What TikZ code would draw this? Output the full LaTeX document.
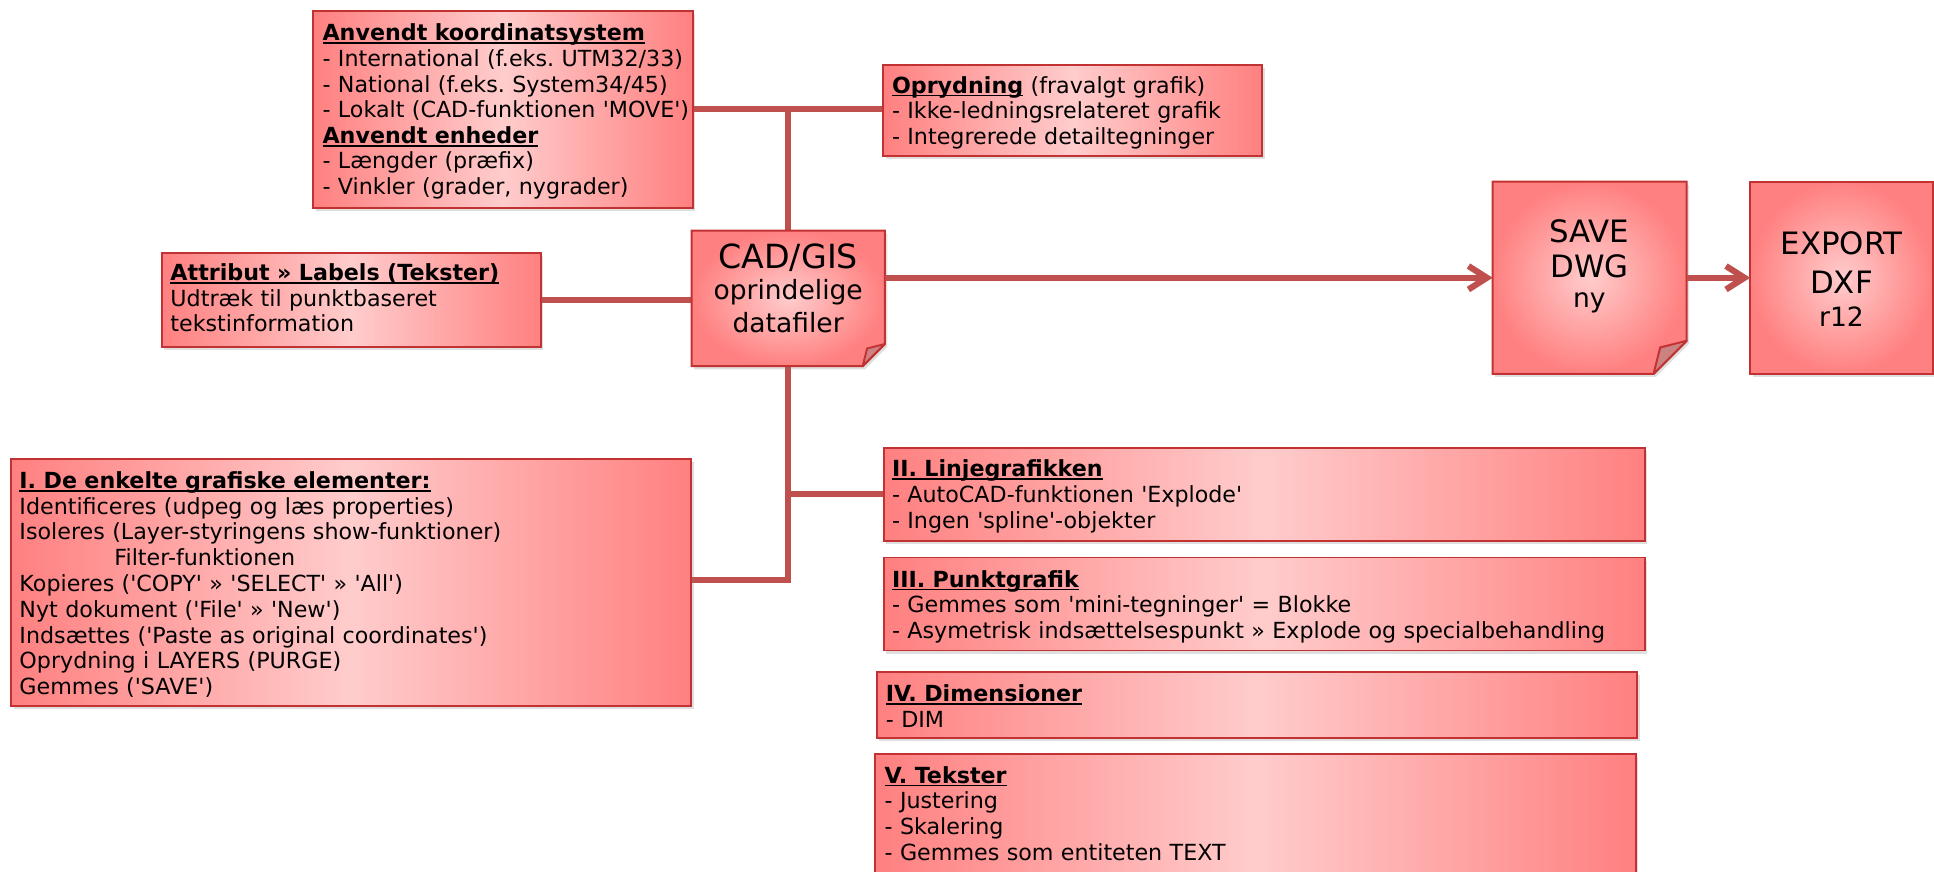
\documentclass[tikz,border=0pt]{standalone}
\usepackage{fontspec}
\newfontfamily\dv{DejaVu Sans}
\usetikzlibrary{shadows,arrows.meta,calc}
\definecolor{bord}{RGB}{195,50,50}
\definecolor{conn}{RGB}{192,80,77}
\definecolor{edgec}{RGB}{255,128,128}
\definecolor{midc}{RGB}{255,204,204}
\definecolor{foldc}{RGB}{205,130,130}
\newcommand\myul[1]{\leavevmode\setbox0\hbox{#1}\rlap{\rule[-2.6pt]{\wd0}{1.3pt}}\box0\relax}
\frenchspacing
\begin{document}
\begin{tikzpicture}[x=1pt,y=-1pt,
  shadowed/.style={drop shadow={opacity=0.25,shadow xshift=2pt,shadow yshift=-2.5pt}},
  box/.style={draw=bord, line width=1.6pt, left color=edgec, right color=edgec, middle color=midc,
    shadowed, anchor=north west, inner sep=0pt},
  ghost/.style={draw=none, anchor=north west, inner sep=0pt},
  foldbox/.style={draw=bord, line width=1.6pt, inner color=midc, outer color=edgec, shadowed},
  foldtri/.style={draw=bord, line width=1.6pt, fill=foldc, line join=round},
  txt/.style={font=\dv\frenchspacing\fontsize{18}{20.8}\selectfont, align=left, text width=640pt, inner sep=0pt, anchor=base west},
  big/.style={font=\dv\fontsize{25}{30}\selectfont, inner sep=0pt, anchor=base},
  small/.style={font=\dv\fontsize{21.5}{26}\selectfont, inner sep=0pt, anchor=base},
  conn/.style={draw=conn, line width=5pt},
  arr/.style={conn, -{Straight Barb[length=15pt,width=19pt]}}
]
\useasboundingbox (0,0) rectangle (1568,706.2);

% anchor nodes (invisible) for all boxes
\node[ghost, minimum width=307.5pt, minimum height=159.3pt] (koord) at (253.8,8.7) {};
\node[ghost, minimum width=307pt, minimum height=73pt] (opryd) at (716,53) {};
\node[ghost, minimum width=307pt, minimum height=76pt] (attrib) at (131,205) {};
\node[ghost, minimum width=156.2pt, minimum height=109.5pt] (cad) at (560.8,187) {};
\node[ghost, minimum width=156.8pt, minimum height=155.4pt] (save) at (1210.2,147.3) {};
\node[ghost, minimum width=148pt, minimum height=155.4pt] (export) at (1419,147.3) {};
\node[ghost, minimum width=551pt, minimum height=200pt] (elem) at (9,372) {};
\node[ghost, minimum width=616.5pt, minimum height=75pt] (linje) at (716.5,363) {};
\node[ghost, minimum width=616.5pt, minimum height=75pt] (punkt) at (716.5,452) {};
\node[ghost, minimum width=616pt, minimum height=53pt] (dim) at (711,545) {};
\node[ghost, minimum width=616.3pt, minimum height=101pt] (tekst) at (709.7,611) {};

% connectors
\draw[conn] (koord.east) -- (koord.east -| opryd.west);
\draw[conn] (cad.north) -- (cad.north |- koord.east);
\draw[conn] (attrib.east) -- (attrib.east -| cad.west);
\draw[conn] (cad.south) |- ([yshift=2pt]elem.east);
\coordinate (br) at (cad.south |- linje.west);
\draw[conn] (br) -- (linje.west);

% boxes
\path[box] (koord.north west) rectangle (koord.south east);
\path[box] (opryd.north west) rectangle (opryd.south east);
\path[box] (attrib.north west) rectangle (attrib.south east);
\path[box] (elem.north west) rectangle (elem.south east);
\path[box] (linje.north west) rectangle (linje.south east);
\path[box] (punkt.north west) rectangle (punkt.south east);
\path[box] (dim.north west) rectangle (dim.south east);
\path[box] (tekst.north west) rectangle (tekst.south east);
\path[foldbox] (export.north west) rectangle (export.south east);

% folded boxes
\path[foldbox] (cad.north west) -- (cad.north east) -- ([yshift=18pt]cad.south east)
  -- ([xshift=-18pt]cad.south east) -- (cad.south west) -- cycle;
\path[foldtri] ([xshift=-18pt]cad.south east) -- ([yshift=18pt]cad.south east)
  -- ([xshift=-14.4pt,yshift=14.4pt]cad.south east) -- cycle;
\path[foldbox] (save.north west) -- (save.north east) -- ([yshift=26.8pt]save.south east)
  -- ([xshift=-26.8pt]save.south east) -- (save.south west) -- cycle;
\path[foldtri] ([xshift=-26.8pt]save.south east) -- ([yshift=26.8pt]save.south east)
  -- ([xshift=-21.4pt,yshift=21.4pt]save.south east) -- cycle;

% arrows
\draw[arr] (cad.east |- save.west) -- (save.west);
\draw[arr] (save.east) -- (export.west);

% texts
\node[txt] (koordT) at (261.3,33) {\myul{\textbf{Anvendt koordinatsystem}}\\
- International (f.eks. UTM32/33)\\
- National (f.eks. System34/45)\\
- Lokalt (CAD-funktionen 'MOVE')\\
\myul{\textbf{Anvendt enheder}}\\
- Længder (præfix)\\
- Vinkler (grader, nygrader)};

\node[txt] (oprydT) at (723,75.5) {\myul{\textbf{Oprydning}} (fravalgt grafik)\\
- Ikke-ledningsrelateret grafik\\
- Integrerede detailtegninger};

\node[txt] (attribT) at (138,227.5) {\myul{\textbf{Attribut » Labels (Tekster)}}\\
Udtræk til punktbaseret\\
tekstinformation};

\node[txt, font=\dv\frenchspacing\fontsize{18}{20.9}\selectfont] (elemT) at (15.6,396) {\myul{\textbf{I. De enkelte grafiske elementer:}}\\
Identificeres (udpeg og læs properties)\\
Isoleres (Layer-styringens show-funktioner)\\
\hspace*{77pt}Filter-funktionen\\
Kopieres ('COPY' » 'SELECT' » 'All')\\
Nyt dokument ('File' » 'New')\\
Indsættes ('Paste as original coordinates')\\
Oprydning i LAYERS (PURGE)\\
Gemmes ('SAVE')};

\node[txt] (linjeT) at (723,386.5) {\myul{\textbf{II. Linjegrafikken}}\\
- AutoCAD-funktionen 'Explode'\\
- Ingen 'spline'-objekter};

\node[txt] (punktT) at (723,476) {\myul{\textbf{III. Punktgrafik}}\\
- Gemmes som 'mini-tegninger' = Blokke\\
- Asymetrisk indsættelsespunkt » Explode og specialbehandling};

\node[txt] (dimT) at (718,569) {\myul{\textbf{IV. Dimensioner}}\\
- DIM};

\node[txt] (tekstT) at (717,635) {\myul{\textbf{V. Tekster}}\\
- Justering\\
- Skalering\\
- Gemmes som entiteten TEXT};

\node[font=\dv\fontsize{27}{32}\selectfont, inner sep=0pt, anchor=base] (cadT1) at (639,217.5) {CAD/GIS};
\node[small] (cadT2) at (639,243.2) {oprindelige};
\node[small] (cadT3) at (639,269.4) {datafiler};

\node[big] (saveT1) at (1288.6,197) {SAVE};
\node[big] (saveT2) at (1288.6,225) {DWG};
\node[small] (saveT3) at (1288.6,249) {ny};

\node[big] (exportT1) at (1493,206.7) {EXPORT};
\node[big] (exportT2) at (1493,237.8) {DXF};
\node[small] (exportT3) at (1493,264.9) {r12};
\end{tikzpicture}
\end{document}
